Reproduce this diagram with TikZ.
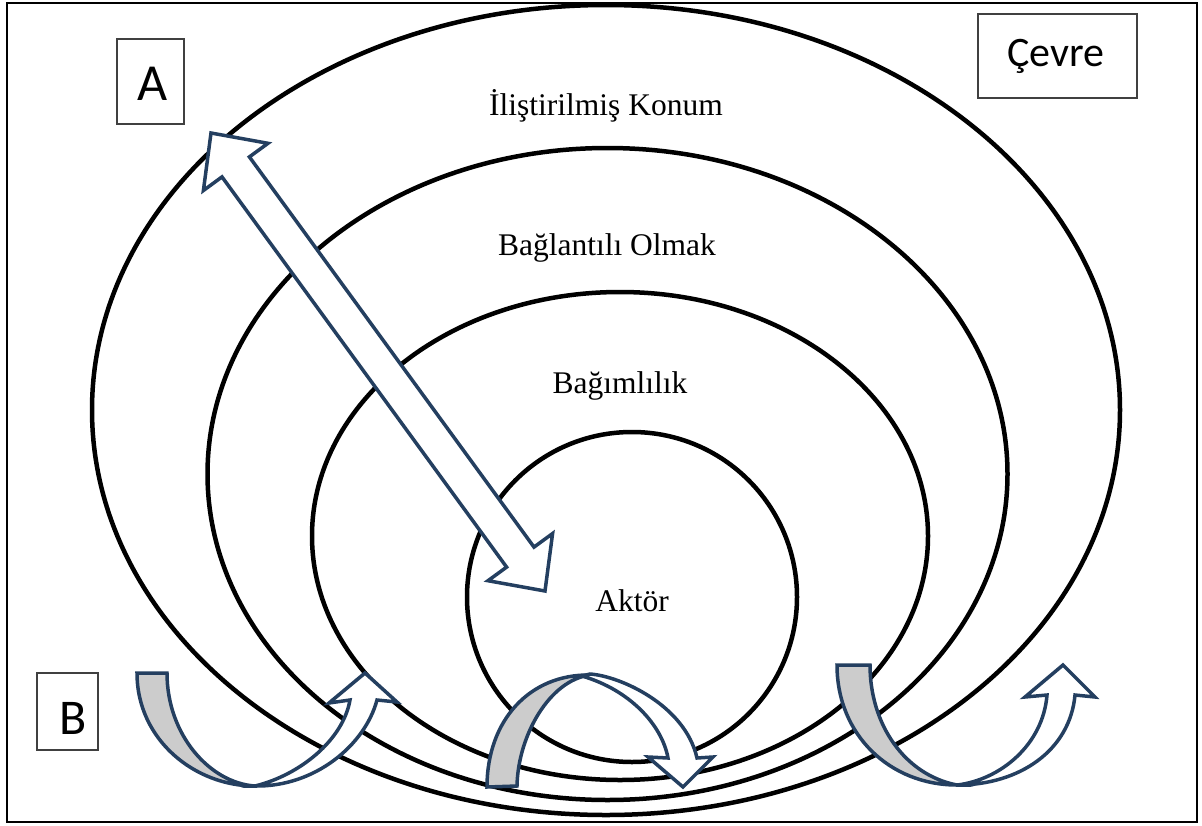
\documentclass[tikz,border=0pt]{standalone}
\usepackage{fontspec}
\setmainfont{Liberation Serif}
\newfontfamily\labelfont{Carlito}
\definecolor{navy}{RGB}{36,63,96}
\definecolor{shade}{RGB}{204,204,204}
\definecolor{boxgray}{RGB}{64,64,64}
\begin{document}
\begin{tikzpicture}[x=1pt,y=-1pt,
  ring/.style={line width=4.5pt, draw=black},
  ringlabel/.style={font=\fontsize{31.5}{36}\selectfont, anchor=base, inner sep=0pt},
  tagbox/.style={draw=boxgray, line width=1.3pt, inner sep=0pt},
  tagtext/.style={inner sep=0pt, font=\labelfont\fontsize{#1}{#1}\selectfont},
  blockarrow/.style={draw=navy, line width=3.5pt, fill=white, line join=miter},
  shadepart/.style={draw=navy, line width=3.5pt, fill=shade, line join=miter}]
\useasboundingbox (0,0) rectangle (1202,825);
\draw[line width=2pt] (7,3) rectangle (1197,822);
% rings
\draw[ring] (606,410) ellipse [x radius=514pt, y radius=405pt];
\draw[ring] (607.5,474) ellipse [x radius=400pt, y radius=326pt];
\draw[ring] (620,536) ellipse [x radius=308pt, y radius=244pt];
\draw[ring] (632,597) ellipse [x radius=165pt, y radius=165pt];
% ring labels
\node[ringlabel] (konum) at (606,115) {İliştirilmiş Konum};
\node[ringlabel] (bagli) at (607,255) {Bağlantılı Olmak};
\node[ringlabel] (bagim) at (620,393) {Bağımlılık};
\node[ringlabel] (aktor) at (632,611) {Aktör};
% tag boxes
\node[tagbox, minimum width=67pt, minimum height=85pt] (A) at (150.5,81.5) {};
\node[tagtext=52] (Atext) at (153,84) {A};
\node[tagbox, minimum width=61pt, minimum height=77pt] (B) at (67.5,711.5) {};
\node[tagtext=50] (Btext) at (73,718) {B};
\node[tagbox, minimum width=159pt, minimum height=84pt] (cevre) at (1057.5,56) {};
\node[tagtext=42] (cevretext) at (1056,56) {Çevre};
% double block arrow
\draw[blockarrow] (211,133) -- (268,143.3) -- (249.4,156.9) -- (534,547.1) -- (552.6,533.5) -- (545,591) -- (488,580.7) -- (506.6,567.1) -- (222,176.9) -- (203.4,190.5) -- cycle;
% left curved arrow
\draw[shadepart] (137,673) -- (167,673) .. controls (167,735) and (210,783) .. (255,786) .. controls (195,786) and (137,740) .. (137,673) -- cycle;
\draw[blockarrow] (255,786) .. controls (315,787) and (365,745) .. (377,700) -- (397,702) -- (365,673) -- (329,703) -- (350,700) .. controls (343,740) and (300,775) .. (255,786) -- cycle;
% middle curved arrow
\draw[shadepart] (487,787) -- (517,786) .. controls (518,735) and (550,680) .. (590,675) .. controls (530,674) and (487,720) .. (487,787) -- cycle;
\draw[blockarrow] (590,674) .. controls (620,676) and (685,705) .. (697,758) -- (713,757) -- (683,787) -- (648,757) -- (668,758) .. controls (662,725) and (630,690) .. (582,676) -- cycle;
% right curved arrow
\draw[shadepart] (837,665) -- (870,665) .. controls (870,725) and (905,775) .. (957,785) .. controls (890,785) and (837,735) .. (837,665) -- cycle;
\draw[blockarrow] (957,785) .. controls (1020,785) and (1070,750) .. (1075,695) -- (1095,697) -- (1063,665) -- (1025,697) -- (1047,695) .. controls (1043,745) and (1000,780) .. (957,785) -- cycle;
\end{tikzpicture}
\end{document}
